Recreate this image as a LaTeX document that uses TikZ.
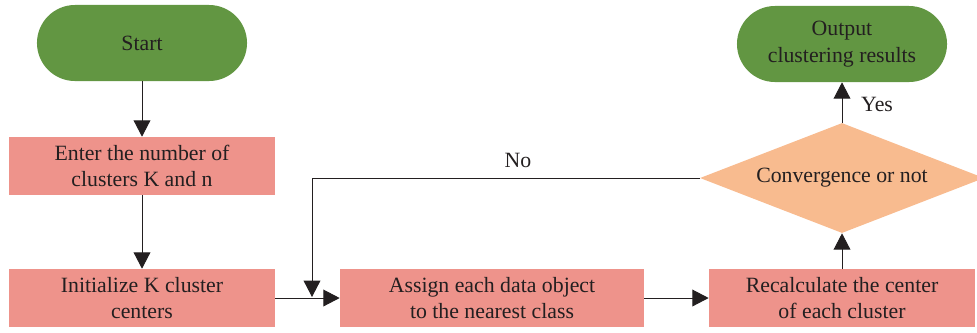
\documentclass[tikz,border=0pt]{standalone}
\usepackage{fontspec}
\setmainfont{Liberation Serif}
\usetikzlibrary{arrows.meta,shapes.geometric}
\definecolor{termgreen}{RGB}{98,150,66}
\definecolor{procred}{RGB}{238,147,139}
\definecolor{decorange}{RGB}{248,187,143}
\definecolor{txtgray}{RGB}{35,31,32}

\begin{document}
\begin{tikzpicture}[x=0.025cm, y=-0.025cm,
    font=\fontsize{15.5}{19}\selectfont, text=txtgray,
    terminal/.style ={rectangle, fill=termgreen, rounded corners=0.95cm, minimum width=5.25cm, minimum height=1.9cm, align=center},
    process/.style ={rectangle, fill=procred, minimum width=6.65cm, minimum height=1.45cm, align=center, inner sep=0pt},
    decision/.style ={diamond, fill=decorange, minimum width=7.1cm, minimum height=2.75cm, aspect=2.6, inner sep=0pt},
    flow/.style ={draw=txtgray, line width=0.7pt, -{Triangle[length=0.41cm, width=0.42cm]}}]
   \useasboundingbox (0,0) rectangle (977,332);
   \node[terminal] (start) at (142,43) {Start};
   \node[process] (enter) at (142,166) {Enter the number of\\clusters K and n};
   \node[process] (init) at (142,298) {Initialize K cluster\\centers};
   \node[process, minimum width=7.6cm] (assign) at (492,298) {Assign each data object\\to the nearest class};
   \node[process] (recalc) at (842,298) {Recalculate the center\\of each cluster};
   \node[decision] (conv) at (842,178) {Convergence or not};
   \node[terminal] (output) at (842,44) {Output\\clustering results};
   \coordinate (merge) at (312,297);

   \draw[flow] (start) to (enter);
   \draw[flow] (enter) to (init);
   \draw[flow] (init) to (assign);
   \draw[flow] (assign) to (recalc);
   \draw[flow] (recalc) to (conv);
   \draw[flow] (conv) to node[right=0.35cm, pos=0.45] {Yes} (output);
   \draw[flow] (conv.west) -| (merge);
   \node (no) at (518,160) {No};
 \end{tikzpicture}
\end{document}
